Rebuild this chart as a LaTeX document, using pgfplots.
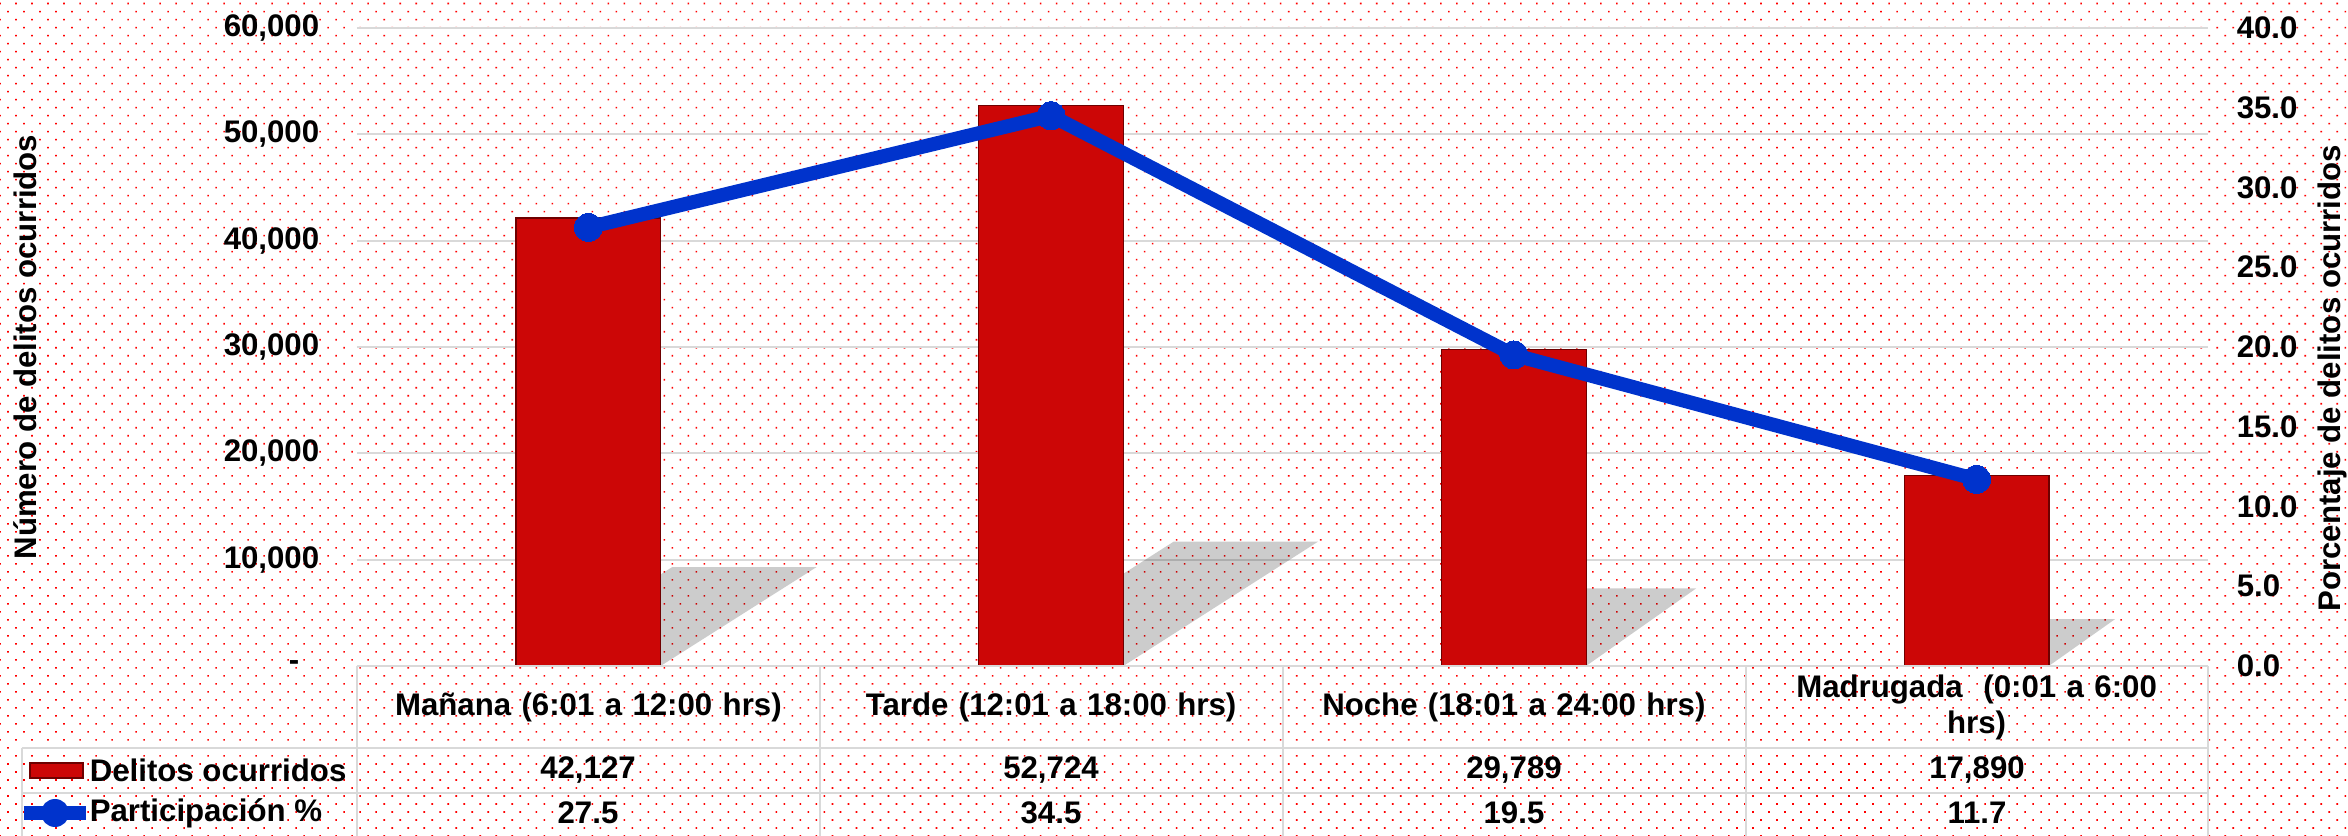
\documentclass[border=0pt]{standalone}
\usepackage{fontspec}
\setmainfont{Liberation Sans}
\usepackage{pgfplots}
\pgfplotsset{compat=1.18}
\usetikzlibrary{patterns.meta}

\definecolor{barred}{RGB}{204,6,6}
\definecolor{bardark}{RGB}{110,0,0}
\definecolor{lineblue}{RGB}{0,51,204}
\definecolor{gridgray}{RGB}{217,217,217}

\pgfdeclarehorizontalshading{bevel}{100bp}{color(0bp)=(bardark); color(4bp)=(barred); color(90bp)=(barred); color(100bp)=(black!80!barred)}

\newcommand{\lbl}{\bfseries\fontsize{7.8}{9}\selectfont}

\begin{document}
\begin{tikzpicture}
\useasboundingbox (0,0) rectangle (587pt,209pt);
\fill[white] (0,0) rectangle (587pt,209pt);
\fill[pattern={Dots[distance=2.83pt,radius=0.28pt,angle=45]},pattern color=red] (0,0) rectangle (587pt,209pt);

% bars, left axis
\begin{axis}[
  at={(89.25pt,42.5pt)}, anchor=south west,
  scale only axis, width=462.75pt, height=159.5pt,
  xmin=-0.5, xmax=3.5, ymin=0, ymax=60000,
  axis y line*=left, axis x line*=bottom,
  axis line style={draw=none},
  major tick length=0pt,
  scaled y ticks=false,
  ytick={0,10000,20000,30000,40000,50000,60000},
  yticklabels={{-\hspace*{5pt}},{10,000},{20,000},{30,000},{40,000},{50,000},{60,000}},
  ymajorgrids, grid style={gridgray, line width=0.5pt},
  yticklabel style={font=\lbl, inner sep=0pt, xshift=-9.25pt},
  xtick={0,1,2,3},
  xticklabels={{Mañana (6:01 a 12:00 hrs)},{Tarde (12:01 a 18:00 hrs)},{Noche (18:01 a 24:00 hrs)},{Madrugada\ \ (0:01 a 6:00\\hrs)}},
  xticklabel style={font=\lbl, anchor=center, yshift=-10.25pt, text width=112pt, align=center, inner sep=0pt},
  ylabel={Número de delitos ocurridos},
  ylabel style={font=\lbl, at={(axis description cs:-0.179,0.5)}, anchor=center},
  clip=false,
]
% soft shadows behind the bars
\addplot[draw=none, fill=black, fill opacity=0.2] coordinates {(-0.156,0) (0.156,0) (0.493,9300) (0.181,9300)} -- cycle;
\addplot[draw=none, fill=black, fill opacity=0.2] coordinates {(0.844,0) (1.156,0) (1.577,11700) (1.265,11700)} -- cycle;
\addplot[draw=none, fill=black, fill opacity=0.2] coordinates {(1.844,0) (2.156,0) (2.394,7300) (2.082,7300)} -- cycle;
\addplot[draw=none, fill=black, fill opacity=0.2] coordinates {(2.844,0) (3.156,0) (3.299,4400) (2.987,4400)} -- cycle;
% bars
\addplot[ybar, bar width=0.313, shading=bevel, draw=bardark, line width=0.3pt] coordinates {(0,42127)};
\addplot[ybar, bar width=0.313, shading=bevel, draw=bardark, line width=0.3pt] coordinates {(1,52724)};
\addplot[ybar, bar width=0.313, shading=bevel, draw=bardark, line width=0.3pt] coordinates {(2,29789)};
\addplot[ybar, bar width=0.313, shading=bevel, draw=bardark, line width=0.3pt] coordinates {(3,17890)};
\end{axis}

% line, right axis
\begin{axis}[
  at={(89.25pt,42.5pt)}, anchor=south west,
  scale only axis, width=462.75pt, height=159.5pt,
  xmin=-0.5, xmax=3.5, ymin=0, ymax=40,
  axis y line*=right, axis x line=none,
  axis line style={draw=none},
  major tick length=0pt,
  ytick={0,5,10,15,20,25,30,35,40},
  yticklabels={0.0,5.0,10.0,15.0,20.0,25.0,30.0,35.0,40.0},
  yticklabel style={font=\lbl, anchor=west, inner sep=0pt, xshift=7pt},
  ylabel={Porcentaje de delitos ocurridos},
  ylabel style={font=\lbl, at={(axis description cs:1.067,0.451)}, anchor=center},
  clip=false,
]
\addplot[lineblue, line width=3.5pt, line join=round, mark=*, mark size=3.5pt,
  mark options={fill=lineblue, draw=lineblue, line width=0pt}]
  coordinates {(0,27.5) (1,34.5) (2,19.5) (3,11.7)};
\end{axis}

% data table below the chart (coordinates in pixels of the reference)
\begin{scope}[x=0.25pt, y=-0.25pt, yshift=209pt]
  \draw[gridgray, line width=0.5pt] (357,666) -- (2208,666);
  \draw[gridgray, line width=0.5pt] (22,748) -- (2208,748);
  \draw[gridgray, line width=0.5pt] (22,793) -- (2208,793);
  \draw[gridgray, line width=0.5pt] (22,748) -- (22,836);
  \foreach \xx in {357,820,1283,1746,2208}
    \draw[gridgray, line width=0.5pt] (\xx,666) -- (\xx,836);
  \foreach \xx/\v in {588/{42,127},1051/{52,724},1514/{29,789},1977/{17,890}}
    \node[font=\lbl, inner sep=0pt] at (\xx,770) {\v};
  \foreach \xx/\v in {588/27.5,1051/34.5,1514/19.5,1977/11.7}
    \node[font=\lbl, inner sep=0pt] at (\xx,813) {\v};
  \shade[shading=bevel, draw=bardark, line width=0.3pt] (30,763) rectangle (83,778);
  \node[font=\lbl, anchor=west, inner sep=0pt] at (89,770) {Delitos ocurridos};
  \draw[lineblue, line width=3.5pt] (24,813) -- (86,813);
  \fill[lineblue] (55,813) circle (14);
  \node[font=\lbl, anchor=west, inner sep=0pt] at (89,813) {Participación \%};
\end{scope}
\end{tikzpicture}
\end{document}
